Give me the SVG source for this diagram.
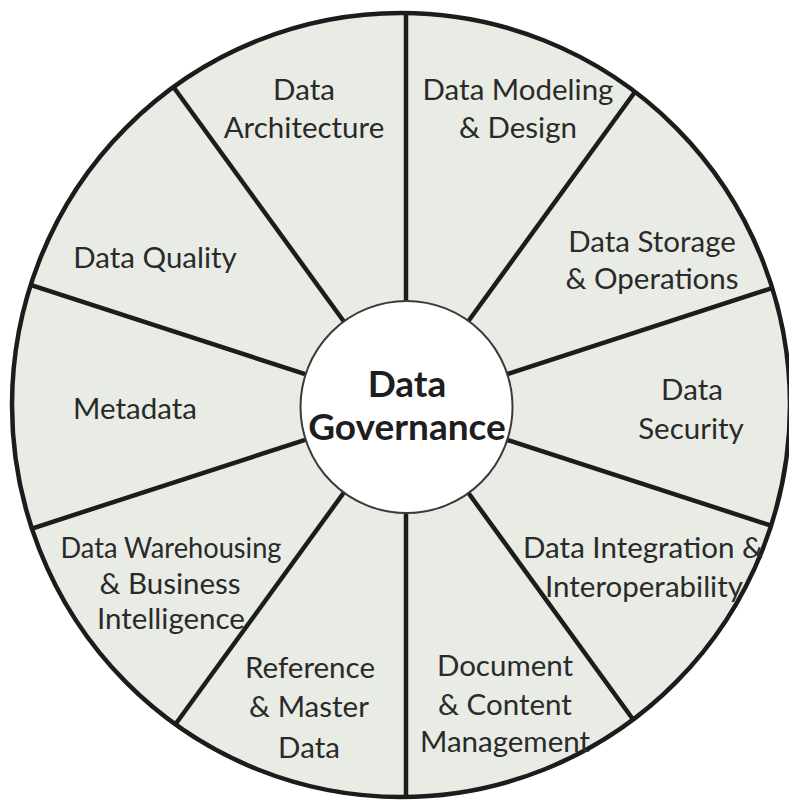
<svg xmlns="http://www.w3.org/2000/svg" width="789" height="806" viewBox="0 0 789 806">
<style>
.lbl{font-family:Lato,"Open Sans","Liberation Sans",sans-serif;font-size:29.5px;fill:#2a2a2a;text-anchor:middle}
.ctr{font-family:Lato,"Open Sans","Liberation Sans",sans-serif;font-size:37px;font-weight:bold;fill:#1e1e1e;text-anchor:middle}
.spoke{stroke:#1c1c1c;stroke-width:4.5;stroke-linecap:butt}
</style>
<defs>
<clipPath id="wheel"><ellipse cx="401" cy="405" rx="389" ry="392"/></clipPath>
</defs>
<rect width="789" height="806" fill="#ffffff"/>
<g id="wheel-bg">
<ellipse cx="401" cy="405" rx="389" ry="392" fill="#e8ece5"/>
</g>
<g id="connectors" clip-path="url(#wheel)">
<line class="spoke" x1="406" y1="301" x2="406" y2="-13"/>
<line class="spoke" x1="468.3" y1="321.2" x2="652.9" y2="67.2"/>
<line class="spoke" x1="506.8" y1="374.2" x2="805.5" y2="277.2"/>
<line class="spoke" x1="506.8" y1="439.8" x2="805.5" y2="536.8"/>
<line class="spoke" x1="468.3" y1="492.8" x2="652.9" y2="746.8"/>
<line class="spoke" x1="406" y1="513" x2="406" y2="827"/>
<line class="spoke" x1="343.7" y1="492.8" x2="159.1" y2="746.8"/>
<line class="spoke" x1="305.2" y1="439.8" x2="6.5" y2="536.8"/>
<line class="spoke" x1="305.2" y1="374.2" x2="6.5" y2="277.2"/>
<line class="spoke" x1="343.7" y1="321.2" x2="159.1" y2="67.2"/>
</g>
<g id="wheel-rim">
<ellipse cx="401" cy="405" rx="389" ry="392" fill="none" stroke="#1c1c1c" stroke-width="4.5"/>
</g>
<g id="data-governance">
<circle cx="406.5" cy="407" r="106" fill="#ffffff" stroke="#3a3a3a" stroke-width="2"/>
<text class="ctr" x="407" y="397">Data</text>
<text class="ctr" x="407" y="440">Governance</text>
</g>
<g id="data-architecture">
<text class="lbl" x="304" y="100">Data</text>
<text class="lbl" x="304" y="138">Architecture</text>
</g>
<g id="data-modeling">
<text class="lbl" x="518" y="100">Data Modeling</text>
<text class="lbl" x="518" y="138">&amp; Design</text>
</g>
<g id="data-storage">
<text class="lbl" x="652" y="252">Data Storage</text>
<text class="lbl" x="652" y="289">&amp; Operations</text>
</g>
<g id="data-security">
<text class="lbl" x="692" y="400">Data</text>
<text class="lbl" x="691" y="439">Security</text>
</g>
<g id="data-integration">
<text class="lbl" x="643" y="558">Data Integration &amp;</text>
<text class="lbl" x="644" y="597">Interoperability</text>
</g>
<g id="document-content">
<text class="lbl" x="505" y="676">Document</text>
<text class="lbl" x="505" y="715">&amp; Content</text>
<text class="lbl" x="505" y="752">Management</text>
</g>
<g id="reference-master">
<text class="lbl" x="310" y="678">Reference</text>
<text class="lbl" x="309" y="717">&amp; Master</text>
<text class="lbl" x="309" y="758">Data</text>
</g>
<g id="data-warehousing">
<text class="lbl" x="171" y="558" textLength="221" lengthAdjust="spacingAndGlyphs">Data Warehousing</text>
<text class="lbl" x="170" y="594">&amp; Business</text>
<text class="lbl" x="171" y="629">Intelligence</text>
</g>
<g id="metadata">
<text class="lbl" x="135" y="419">Metadata</text>
</g>
<g id="data-quality">
<text class="lbl" x="155" y="268">Data Quality</text>
</g>
</svg>
